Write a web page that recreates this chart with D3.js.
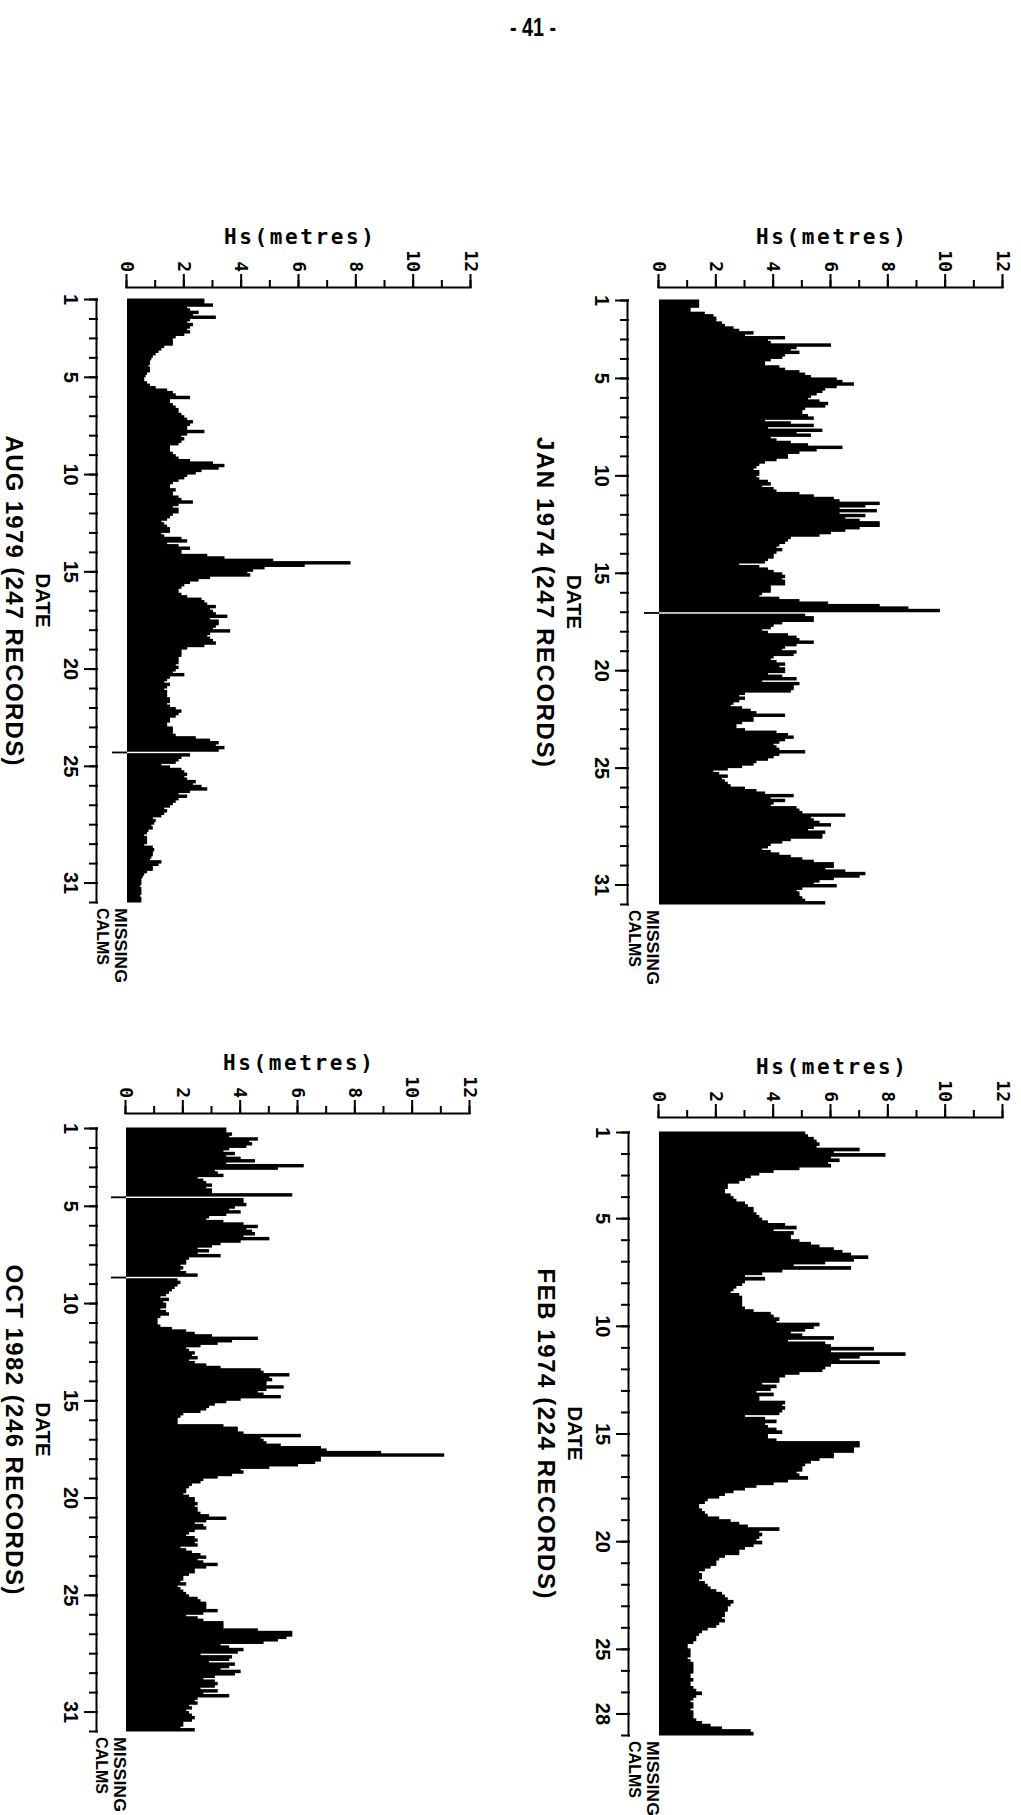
<!DOCTYPE html>
<html><head><meta charset="utf-8">
<script src="https://cdn.jsdelivr.net/npm/d3@7"></script>
<style>body{margin:0;background:#fff}svg{display:block}</style>
</head><body>
<svg id="page" width="1021" height="1815"></svg>
<script>
// ---------- data ----------
const pageNumber = "- 41 -";
const hsLabel = "Hs(metres)";
const dateLabel = "DATE";
const missingLabel = "MISSING";
const calmsLabel = "CALMS";
const hsMajorTicks = [0, 2, 4, 6, 8, 10, 12];
const hsMinorTicks = [0, 1, 2, 3, 4, 5, 6, 7, 8, 9, 10, 11, 12];
const dayLabels31 = [1, 5, 10, 15, 20, 25, 31];
const dayLabels28 = [1, 5, 10, 15, 20, 25, 28];
const janTitle = "JAN 1974 (247 RECORDS)";
const febTitle = "FEB 1974 (224 RECORDS)";
const augTitle = "AUG 1979 (247 RECORDS)";
const octTitle = "OCT 1982 (246 RECORDS)";

// 3-hourly Hs values (null = missing record)
const janHs = [
1.4,1.4,1.4,1.1,1.1,1.6,1.9,2.0, 2.0,2.2,2.3,2.6,2.8,3.3,3.0,4.4,
3.8,3.9,6.0,4.8,4.6,4.9,4.4,4.3, 3.9,3.7,3.7,4.2,4.4,4.9,5.1,5.3,
6.2,6.4,6.8,6.2,5.8,5.7,5.5,5.3, 5.2,5.6,5.9,5.8,5.1,5.0,5.0,5.2,
5.4,3.7,4.6,5.4,3.8,5.7,4.8,5.3, 3.9,4.1,4.6,5.2,6.4,5.5,4.9,4.5,
4.5,4.1,3.7,3.5,3.4,3.3,3.5,3.5, 3.4,3.5,3.8,3.9,3.6,4.0,4.1,4.9,
5.4,6.1,6.3,7.7,7.2,6.3,7.6,6.3, 7.2,6.5,7.0,7.7,7.7,7.0,6.5,6.0,
5.6,4.6,4.5,4.4,4.2,4.1,4.3,4.1, 4.0,4.0,3.8,3.7,2.8,3.5,3.8,4.0,
4.3,4.4,4.3,4.4,4.4,3.9,3.9,3.9, 3.6,3.5,4.2,4.9,5.9,7.7,8.7,9.8,
null,5.1,5.4,5.4,4.3,4.0,3.9,3.6, 3.8,4.5,4.8,4.9,5.4,4.8,4.4,4.3,
4.8,4.7,4.0,3.9,4.1,4.4,4.2,4.4, 4.4,3.8,4.3,4.8,3.6,4.9,4.7,4.7,
4.6,3.0,2.8,3.0,2.8,2.6,2.5,2.9, 3.2,3.4,4.4,3.3,3.3,2.9,2.7,2.7,
3.0,4.1,4.5,4.7,4.4,4.2,4.0,4.1, 4.2,5.1,4.2,4.0,3.8,3.4,3.3,2.9,
2.4,1.9,2.1,2.4,2.2,2.3,2.4,2.5, 3.0,3.4,3.7,4.7,3.9,4.4,4.0,3.9,
4.8,4.9,5.0,6.5,5.3,5.4,5.6,6.0, 5.4,5.2,5.8,5.7,5.7,4.6,4.3,3.9,
3.8,3.6,3.9,4.2,4.6,5.0,5.4,6.1, 6.1,5.8,6.5,7.2,7.0,6.1,5.6,5.4,
6.2,5.0,4.8,4.9,4.9,5.0,5.1,5.8
];
const febHs = [
5.1,5.2,5.4,5.5,5.6,5.5,7.0,6.1, 7.9,6.0,6.3,5.9,6.0,4.9,4.0,3.5,
3.2,3.0,2.8,2.4,2.4,2.3,2.3,2.5, 2.6,2.7,3.0,3.1,3.3,3.3,3.4,3.5,
3.6,3.8,4.4,4.8,4.0,4.7,4.6,4.6, 4.9,5.3,5.6,6.1,6.4,6.7,7.3,6.8,
5.8,4.7,6.7,4.3,3.6,3.0,3.7,3.0, 2.9,2.7,2.6,2.5,2.8,2.9,2.9,2.9,
2.9,3.0,3.3,3.9,4.0,4.2,4.1,5.6, 5.4,5.1,4.6,5.0,6.1,4.5,5.8,6.0,
7.5,6.0,8.6,7.0,6.3,7.7,6.0,5.8, 5.7,4.9,4.4,4.2,4.2,3.6,4.1,3.9,
3.4,4.0,3.5,3.5,4.4,4.3,4.4,4.3, 4.2,3.0,3.7,4.1,3.7,3.8,4.1,4.3,
3.8,3.8,4.1,7.0,7.0,6.8,6.8,6.1, 6.1,5.6,5.3,5.1,5.0,5.0,4.8,4.9,
5.2,4.5,4.0,3.4,3.0,2.6,2.3,2.1, 1.7,1.6,1.4,1.4,1.5,1.6,1.7,2.1,
2.5,2.8,3.1,4.2,3.5,3.6,3.5,3.4, 3.6,3.3,3.0,2.8,2.8,2.3,2.1,2.0,
2.0,1.8,1.6,1.4,1.5,1.5,1.4,1.6, 1.7,1.8,2.0,2.2,2.3,2.4,2.6,2.5,
2.4,2.4,2.3,2.3,2.2,2.3,2.1,2.0, 1.7,1.5,1.4,1.3,1.3,1.2,1.0,1.0,
1.1,1.1,1.1,1.0,1.1,1.2,1.2,1.2, 1.2,1.1,1.1,1.2,1.1,1.1,1.2,1.3,
1.5,1.3,1.2,1.1,1.2,1.2,1.1,1.2, 1.2,1.2,1.3,1.5,1.8,2.2,3.2,3.3
];
const augHs = [
2.7,2.7,3.0,2.1,2.2,2.5,2.3,3.1, 2.2,2.1,2.3,2.2,2.1,2.2,2.0,1.7,
1.6,1.6,1.6,1.3,1.2,1.1,1.0,0.9, 0.85,0.8,0.8,0.75,0.8,0.8,0.7,0.65,
0.6,0.6,0.7,0.8,1.0,1.4,1.6,1.7, 2.2,1.5,1.5,1.6,1.7,1.8,1.8,1.9,
2.0,2.1,2.3,2.2,2.1,2.1,2.7,2.1, 1.9,2.0,1.9,1.8,1.5,1.5,1.5,1.6,
1.7,1.8,2.2,3.0,3.4,3.2,2.6,2.4, 2.1,2.0,1.8,1.6,1.5,1.5,1.7,1.6,
1.6,1.8,1.9,2.3,1.8,1.6,1.8,1.8, 1.6,1.5,1.4,1.2,1.3,1.4,1.5,1.5,
1.2,1.3,1.9,2.1,1.4,1.8,2.2,1.9, 1.9,2.8,3.4,5.1,7.8,6.2,4.8,4.4,
4.2,4.3,2.9,2.5,2.2,2.0,1.9,1.8, 1.8,1.9,2.1,2.6,2.7,2.8,3.1,2.9,
3.0,3.1,3.5,2.9,3.2,3.2,3.1,3.0, 3.6,2.9,2.8,2.9,3.0,3.1,2.7,2.1,
1.9,1.9,1.9,1.8,1.8,1.8,1.7,1.8, 1.7,1.6,2.0,1.5,1.4,1.3,1.5,1.4,
1.3,1.4,1.4,1.4,1.5,1.5,1.4,1.5, 1.7,1.9,1.8,1.7,1.5,1.5,1.4,1.4,
1.6,1.6,1.6,1.7,2.4,2.9,3.2,3.1, 3.4,3.2,null,2.2,1.9,1.8,1.7,1.2,
1.5,1.9,2.0,2.1,2.0,2.1,2.4,2.3, 2.6,2.8,2.2,1.8,2.1,1.8,1.7,1.6,
1.5,1.3,1.4,1.3,1.2,0.9,1.0,0.95, 0.85,0.9,0.75,0.7,0.6,0.7,0.7,0.7,
0.6,0.9,0.95,0.9,0.9,0.85,0.8,1.2, 1.1,0.9,0.9,0.7,0.6,0.55,0.5,0.5,
0.5,0.45,0.5,0.5,0.5,0.45,0.5,0.5
];
const octHs = [
3.5,3.5,3.7,3.6,4.6,4.3,4.4,4.2, 3.6,3.4,3.8,3.5,4.0,4.5,3.5,6.2,
5.3,3.1,3.2,3.4,2.5,2.7,2.8,3.0, 2.8,3.0,3.0,5.8,null,4.1,4.1,4.2,
3.8,3.6,4.0,3.5,2.9,2.8,3.4,4.1, 4.6,4.2,4.4,4.5,4.1,5.0,4.0,3.3,
3.0,2.5,2.9,2.5,3.3,2.2,2.1,2.1, 1.9,2.0,1.9,2.1,2.5,null,1.8,1.9,
1.8,1.7,1.6,1.5,1.4,1.2,1.5,1.3, 1.4,1.4,1.2,1.4,1.5,1.2,1.1,1.1,
1.1,1.2,1.6,2.1,2.4,3.0,4.6,3.7, 3.2,2.6,2.1,2.2,2.4,2.3,2.5,2.2,
2.4,2.8,3.3,4.7,4.8,5.7,5.0,5.1, 4.9,4.9,5.5,4.9,4.6,4.8,5.4,4.0,
3.5,3.1,2.9,2.8,2.6,2.0,1.9,1.8, 1.8,1.8,3.4,3.9,3.9,4.1,6.1,4.7,
4.8,4.9,5.4,6.8,7.0,8.9,11.1,6.8, 6.8,6.6,6.0,5.0,4.0,4.1,3.7,3.2,
2.7,2.6,2.3,2.2,2.1,2.1,2.0,2.2, 2.4,2.4,2.5,2.4,2.5,2.5,2.6,2.9,
3.5,2.8,2.4,2.7,2.8,2.4,2.2,2.1, 2.4,2.5,2.4,2.5,1.9,2.1,2.3,2.6,
2.8,2.5,2.7,3.2,2.8,2.4,2.4,2.2, 2.0,2.0,1.9,2.1,1.8,1.9,2.0,2.1,
2.2,2.5,2.6,2.8,2.8,2.8,3.2,2.7, 2.1,2.5,2.7,3.4,3.4,3.4,4.6,5.8,
5.8,5.6,5.3,4.8,3.3,3.6,4.1,3.9, 2.6,3.7,3.6,2.9,3.8,3.6,3.3,4.0,
3.8,3.1,2.7,3.1,3.2,3.1,2.6,3.2, 2.7,3.6,2.5,2.4,2.5,2.2,2.3,2.1,
2.2,2.3,2.4,2.3,2.0,2.0,1.9,2.4
];

// ---------- layout ----------
const panels = [
  {title: janTitle, values: janHs, days: 31, dayLabels: dayLabels31, baseline: 659, y0: 300,  len: 604, vOff: 13, dOff: 31},
  {title: febTitle, values: febHs, days: 28, dayLabels: dayLabels28, baseline: 659, y0: 1132, len: 603, vOff: 15, dOff: 30},
  {title: augTitle, values: augHs, days: 31, dayLabels: dayLabels31, baseline: 127, y0: 299,  len: 603, vOff: 12, dOff: 30},
  {title: octTitle, values: octHs, days: 31, dayLabels: dayLabels31, baseline: 126, y0: 1128, len: 603, vOff: 15, dOff: 29}
];
const H = 344;
const MONO = "'DejaVu Sans Mono', monospace";
const SANS = "'Liberation Sans', Arial, sans-serif";

const svg = d3.select('#page');

svg.append('text')
  .attr('x', 533).attr('y', 36).attr('text-anchor', 'middle')
  .attr('font-family', SANS).attr('font-size', 25).attr('font-weight', 'bold')
  .attr('textLength', 46).attr('lengthAdjust', 'spacingAndGlyphs')
  .text(pageNumber);

function styleAxis(sel) {
  sel.attr('font-family', null).attr('font-size', null);
  sel.selectAll('path, line').attr('stroke', '#000').attr('stroke-width', 2).attr('stroke-linecap', 'square');
}

function drawPanel(p) {
  const W = p.len;
  const per = p.values.length / p.days;
  const g = svg.append('g').attr('transform', `translate(${p.baseline + H},${p.y0}) rotate(90)`);
  const x = d3.scaleLinear().domain([1, p.days + 1]).range([0, W]);
  const y = d3.scaleLinear().domain([0, 12]).range([H, 0]);
  const recs = p.values.map((v, i) => ({v, i}));
  const t0 = d => 1 + d.i / per, t1 = d => 1 + (d.i + 1) / per;

  // bars (slightly overlapped so the filled silhouette has no seams)
  g.append('g').selectAll('rect')
    .data(recs.filter(d => d.v != null))
    .join('rect')
    .attr('x', d => x(t0(d)) - 0.5)
    .attr('width', d => x(t1(d)) - x(t0(d)) + 1)
    .attr('y', d => y(d.v))
    .attr('height', d => y(0) - y(d.v))
    .attr('fill', '#000');

  // missing records: short mark below the zero line
  g.append('g').selectAll('rect')
    .data(recs.filter(d => d.v == null))
    .join('rect')
    .attr('x', d => (x(t0(d)) + x(t1(d))) / 2 - 0.9)
    .attr('width', 1.8)
    .attr('y', y(0))
    .attr('height', 15)
    .attr('fill', '#000');

  // Hs axis
  const ya = g.append('g').attr('transform', `translate(${-p.vOff},0)`);
  ya.call(d3.axisLeft(y).tickValues(hsMinorTicks).tickSize(6).tickFormat('').tickSizeOuter(0));
  styleAxis(ya);
  const yb = g.append('g').attr('transform', `translate(${-p.vOff},0)`);
  yb.call(d3.axisLeft(y).tickValues(hsMajorTicks).tickSize(12).tickPadding(3).tickSizeOuter(0));
  yb.select('.domain').remove();
  styleAxis(yb);
  yb.selectAll('text').attr('font-family', MONO).attr('font-size', 18).attr('font-weight', 'bold').attr('fill', '#000');

  g.append('text')
    .attr('transform', `translate(${-p.vOff - 43},${H / 2}) rotate(-90)`)
    .attr('text-anchor', 'middle')
    .attr('font-family', MONO).attr('font-size', 21).attr('font-weight', 'bold')
    .attr('textLength', 150).attr('lengthAdjust', 'spacing')
    .text(hsLabel);

  // date axis
  const xa = g.append('g').attr('transform', `translate(0,${H + p.dOff})`);
  xa.call(d3.axisBottom(x).tickValues(d3.range(1, p.days + 2)).tickSize(7).tickFormat('').tickSizeOuter(0));
  styleAxis(xa);
  const xb = g.append('g').attr('transform', `translate(0,${H + p.dOff})`);
  xb.call(d3.axisBottom(x).tickValues(p.dayLabels).tickSize(12).tickPadding(7).tickSizeOuter(0));
  xb.select('.domain').remove();
  styleAxis(xb);
  xb.selectAll('text').attr('font-family', SANS).attr('font-size', 20).attr('font-weight', 'bold').attr('fill', '#000');

  g.append('text')
    .attr('x', W / 2).attr('y', H + p.dOff + 61)
    .attr('text-anchor', 'middle')
    .attr('font-family', SANS).attr('font-size', 21).attr('font-weight', 'bold')
    .attr('textLength', 54).attr('lengthAdjust', 'spacingAndGlyphs')
    .text(dateLabel);

  g.append('text')
    .attr('x', W / 2).attr('y', H + p.dOff + 91)
    .attr('text-anchor', 'middle')
    .attr('font-family', SANS).attr('font-size', 24).attr('font-weight', 'bold')
    .attr('textLength', 330).attr('lengthAdjust', 'spacing')
    .text(p.title);

  // MISSING / CALMS key
  g.append('text')
    .attr('x', W + 6).attr('y', H + 12)
    .attr('font-family', SANS).attr('font-size', 17).attr('font-weight', 'bold')
    .attr('textLength', 75).attr('lengthAdjust', 'spacingAndGlyphs')
    .text(missingLabel);
  g.append('text')
    .attr('x', W + 6).attr('y', H + 30)
    .attr('font-family', SANS).attr('font-size', 17).attr('font-weight', 'bold')
    .attr('textLength', 57).attr('lengthAdjust', 'spacingAndGlyphs')
    .text(calmsLabel);
}

panels.forEach(drawPanel);
</script>
</body></html>
